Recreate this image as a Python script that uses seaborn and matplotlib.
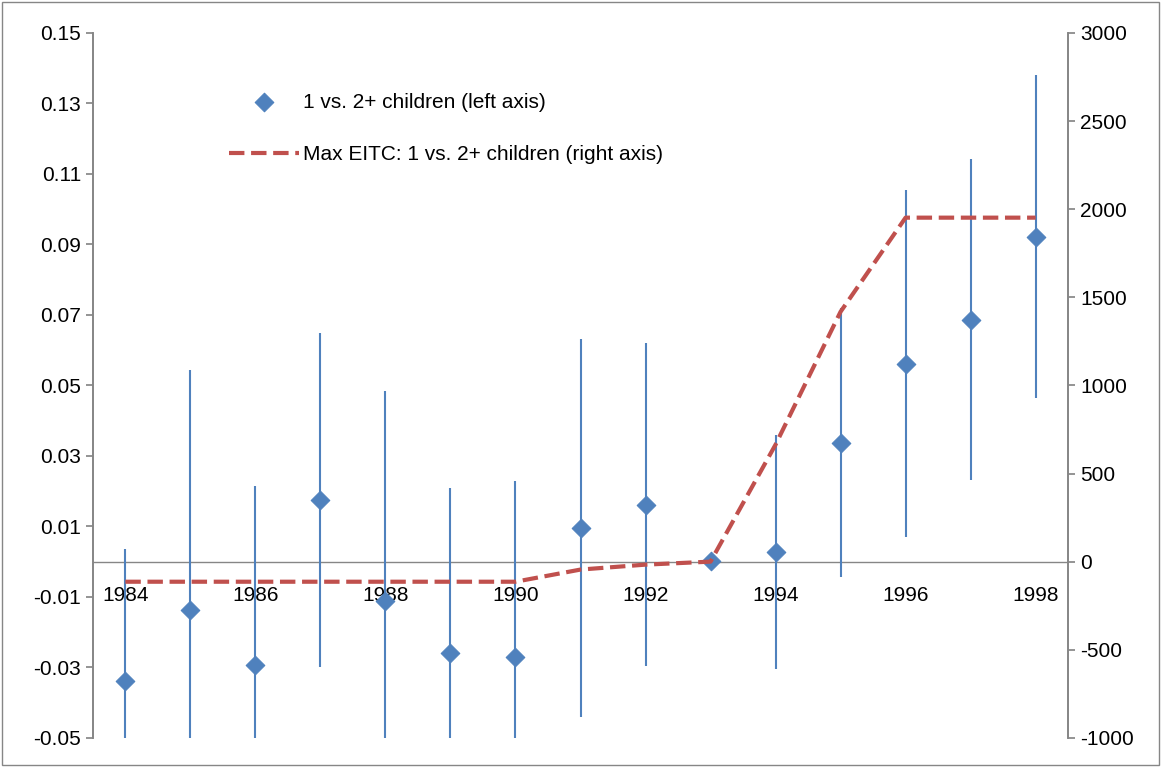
import matplotlib
matplotlib.use("Agg")
import matplotlib.pyplot as plt
import seaborn as sns
import numpy as np

years = list(range(1984, 1999))
coef = [-0.0338, -0.0136, -0.0292, 0.0176, -0.0113, -0.0258, -0.027, 0.0096, 0.0162, 0.0003, 0.0028, 0.0338, 0.0562, 0.0687, 0.0922]
upper = [0.0037, 0.0545, 0.0216, 0.065, 0.0485, 0.021, 0.023, 0.0633, 0.0621, 0.0005, 0.036, 0.072, 0.1055, 0.1143, 0.138]
eitc = [-114, -114, -114, -114, -114, -114, -114, -45, -17, 0, 664, 1418, 1952, 1952, 1952]

sns.set_theme(style="white")
plt.rcParams['font.family'] = ['Liberation Sans', 'DejaVu Sans']
plt.rcParams['axes.unicode_minus'] = False
fig = plt.figure(figsize=(11.61, 7.67), dpi=100)
ax = fig.add_axes([0.080, 0.038, 0.840, 0.919])
ax2 = ax.twinx()

x = np.arange(len(years))
err = np.array(upper) - np.array(coef)
ax.errorbar(x, coef, yerr=err, fmt='none', ecolor='#4F81BD', elinewidth=1.5, capsize=0, zorder=2)
sns.scatterplot(x=x, y=coef, ax=ax, marker='D', s=90, color='#4F81BD', edgecolor='#4F81BD',
                zorder=3, label='1 vs. 2+ children (left axis)', legend=False)
sns.lineplot(x=x, y=eitc, ax=ax2, color='#C0504D', linestyle='--', linewidth=3, dashes=(3, 1.5),
             label='Max EITC: 1 vs. 2+ children (right axis)', legend=False)

ax.set_xlim(-0.5, len(years) - 0.5)
ax.set_ylim(-0.05, 0.15)
ax2.set_ylim(-1000, 3000)
ax.set_yticks(np.arange(-0.05, 0.151, 0.02))
ax.set_yticklabels([f"{v:.2f}" for v in np.arange(-0.05, 0.151, 0.02)])
ax2.set_yticks(range(-1000, 3001, 500))
ax.axhline(0, color='#868686', lw=1, zorder=1)
ax.set_xticks(x[::2])
ax.set_xticklabels([str(y) for y in years[::2]])
ax.tick_params(axis='x', length=0, pad=0)
for lab in ax.get_xticklabels():
    lab.set_y(0.215)
ax.tick_params(axis='y', direction='out', length=5, color='#868686', labelsize=15, left=True, labelcolor='black')
ax2.tick_params(axis='y', direction='out', length=5, color='#868686', labelsize=15, right=True, labelcolor='black')
ax.tick_params(axis='x', labelsize=15, labelcolor='black')
for a in (ax, ax2):
    for s in ('top', 'bottom'):
        a.spines[s].set_visible(False)
    a.spines['left'].set_color('#868686')
    a.spines['right'].set_color('#868686')

h1, l1 = ax.get_legend_handles_labels()
h2, l2 = ax2.get_legend_handles_labels()
leg = ax.legend(h1 + h2, l1 + l2, loc='upper left', bbox_to_anchor=(0.12, 0.942), frameon=False,
          fontsize=15, handlelength=3.4, handletextpad=0.15, labelspacing=1.6)
for t in leg.get_texts():
    t.set_color('black')
fig.add_artist(plt.Rectangle((0.002, 0.002), 0.996, 0.996, transform=fig.transFigure,
                             fill=False, edgecolor='#868686', lw=1))
fig.savefig("out.png", dpi=100)
